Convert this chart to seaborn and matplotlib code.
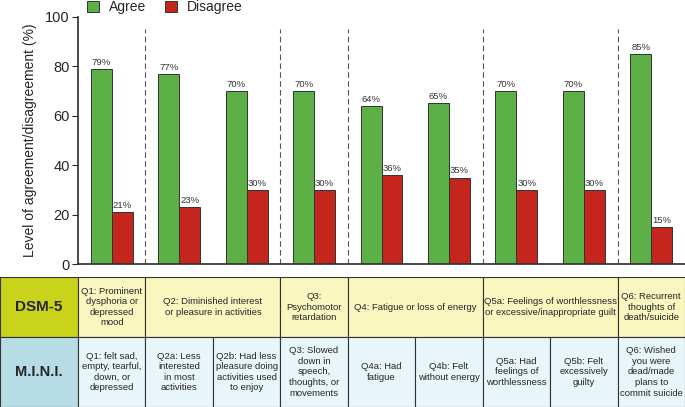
import pandas as pd
import matplotlib.pyplot as plt
from matplotlib.patches import Rectangle
import seaborn as sns

items = ['Q1', 'Q2a', 'Q2b', 'Q3', 'Q4a', 'Q4b', 'Q5a', 'Q5b', 'Q6']
agree = [79, 77, 70, 70, 64, 65, 70, 70, 85]
disagree = [21, 23, 30, 30, 36, 35, 30, 30, 15]

# DSM-5 groups: (first item, last item, text)
dsm_groups = [
    (0, 0, 'Q1: Prominent\ndysphoria or\ndepressed\nmood'),
    (1, 2, 'Q2: Diminished interest\nor pleasure in activities'),
    (3, 3, 'Q3:\nPsychomotor\nretardation'),
    (4, 5, 'Q4: Fatigue or loss of energy'),
    (6, 7, 'Q5a: Feelings of worthlessness\nor excessive/inappropriate guilt'),
    (8, 8, 'Q6: Recurrent\nthoughts of\ndeath/suicide'),
]
mini_texts = [
    'Q1: felt sad,\nempty, tearful,\ndown, or\ndepressed',
    'Q2a: Less\ninterested\nin most\nactivities',
    'Q2b: Had less\npleasure doing\nactivities used\nto enjoy',
    'Q3: Slowed\ndown in\nspeech,\nthoughts, or\nmovements',
    'Q4a: Had\nfatigue',
    'Q4b: Felt\nwithout energy',
    'Q5a: Had\nfeelings of\nworthlessness',
    'Q5b: Felt\nexcessively\nguilty',
    'Q6: Wished\nyou were\ndead/made\nplans to\ncommit suicide',
]

df = pd.DataFrame({'item': items * 2,
                   'value': agree + disagree,
                   'resp': ['Agree'] * len(items) + ['Disagree'] * len(items)})

sns.set_theme(style='white')
plt.rcParams['font.family'] = ['Liberation Sans', 'DejaVu Sans']

W, H = 685, 407
fig = plt.figure(figsize=(6.85, 4.07), dpi=100)
ax = fig.add_axes([78 / W, 1 - 264 / H, 1 - 78 / W, (264 - 17) / H])

sns.barplot(data=df, x='item', y='value', hue='resp', order=items,
            palette=['#5cb046', '#c4261d'], width=0.62, edgecolor='#333333',
            linewidth=0.7, saturation=1, ax=ax)
for c in ax.containers:
    ax.bar_label(c, fmt='%g%%', fontsize=6.8, color='#333333', padding=1.5)

ax.set_xlim(-0.5, 8.5)
ax.set_ylim(0, 100)
ax.set_yticks(range(0, 101, 20))
ax.tick_params(axis='y', labelsize=10.5, length=4, width=0.8, left=True, pad=2)
ax.set_xticks([])
ax.set_xlabel('')
ax.set_ylabel('Level of agreement/disagreement (%)', fontsize=10, labelpad=6)
for s in ['top', 'right']:
    ax.spines[s].set_visible(False)
ax.spines['left'].set_color('#333333')
ax.spines['bottom'].set_color('#333333')

# dashed separators between DSM-5 groups
for g0, g1, _ in dsm_groups[:-1]:
    ax.vlines(g1 + 0.5, 0, 95, colors='#555555', linestyles=(0, (5, 3)), lw=0.8)

leg = ax.legend(loc='center', bbox_to_anchor=(165 / W, 1 - 7 / H), bbox_transform=fig.transFigure,
                ncol=2, frameon=False, fontsize=10, handlelength=0.85, handleheight=0.85,
                columnspacing=1.4, handletextpad=0.7)

# table below the chart, sharing the item units
unit = (W - 78) / len(items)
tab = fig.add_axes([0, 0, 1, 130 / H])
x0 = -0.5 - 78 / unit
tab.set_xlim(x0, 8.5)
tab.set_ylim(0, 130)
tab.axis('off')
edge = '#333333'

tab.add_patch(Rectangle((x0, 70), -0.5 - x0, 60, facecolor='#c9d31c', edgecolor=edge, lw=0.8))
tab.add_patch(Rectangle((x0, 0), -0.5 - x0, 70, facecolor='#b6dce6', edgecolor=edge, lw=0.8))
tab.text((x0 - 0.5) / 2, 100, 'DSM-5', ha='center', va='center', fontsize=11, fontweight='bold')
tab.text((x0 - 0.5) / 2, 35, 'M.I.N.I.', ha='center', va='center', fontsize=10.5, fontweight='bold')

for g0, g1, txt in dsm_groups:
    tab.add_patch(Rectangle((g0 - 0.5, 70), g1 - g0 + 1, 60, facecolor='#f9f6bf', edgecolor=edge, lw=0.8))
    tab.text((g0 + g1) / 2, 100, txt, ha='center', va='center', fontsize=6.8, linespacing=1.22)

for i, txt in enumerate(mini_texts):
    tab.add_patch(Rectangle((i - 0.5, 0), 1, 70, facecolor='#e8f5f9', edgecolor=edge, lw=0.8))
    tab.text(i, 35, txt, ha='center', va='center', fontsize=6.8, linespacing=1.22)

fig.savefig('out.png', dpi=100)
